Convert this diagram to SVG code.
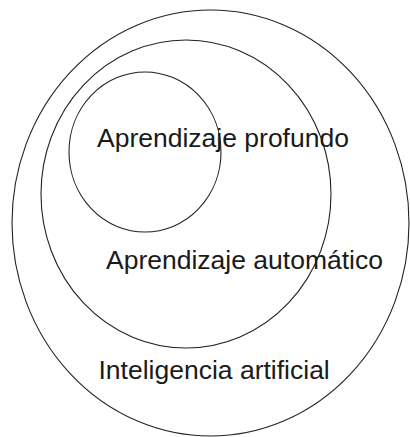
<svg xmlns="http://www.w3.org/2000/svg" width="410" height="437" viewBox="0 0 410 437">
<style>
.c{fill:none;stroke:#222;stroke-width:1.1}
.t{font-family:"Liberation Sans",Arial,sans-serif;font-size:26.5px;fill:#1a1a1a}
</style>
<rect width="410" height="437" fill="#fff"/>
<g id="ia"><ellipse class="c" cx="210.5" cy="223" rx="198.5" ry="213"/></g>
<g id="aa"><ellipse class="c" cx="186" cy="194" rx="145" ry="154"/></g>
<g id="ap"><ellipse class="c" cx="145" cy="152" rx="76" ry="80"/></g>
<g id="labels">
<text class="t" x="97" y="147.3">Aprendizaje profundo</text>
<text class="t" x="106" y="269.3">Aprendizaje automático</text>
<text class="t" x="98.5" y="378.5">Inteligencia artificial</text>
</g>
</svg>
